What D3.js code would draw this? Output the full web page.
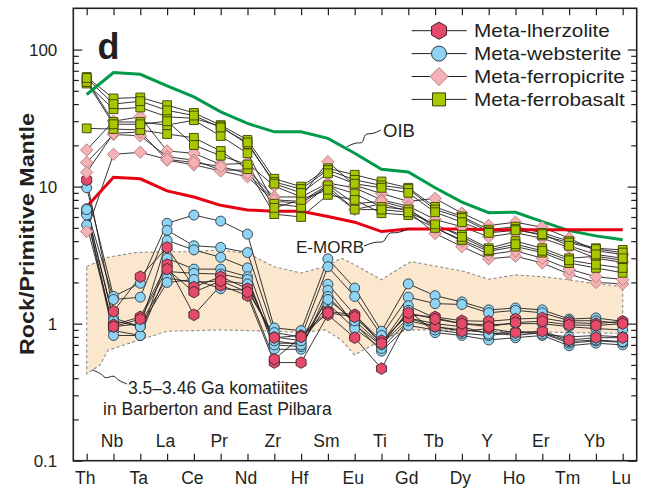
<!DOCTYPE html>
<html>
<head>
<meta charset="utf-8">
<script src="https://cdn.jsdelivr.net/npm/d3@7"></script>
<style>
body{margin:0;background:#fff}
svg{display:block}
text{font-family:Arial,"Liberation Sans",Helvetica,sans-serif;fill:#231f20}
</style>
</head>
<body>
<svg id="chart" width="648" height="492"></svg>
<script>
// elements, in plotting order
const elements=["Th","Nb","Ta","La","Ce","Pr","Nd","Zr","Hf","Sm","Eu","Ti","Gd","Tb","Dy","Y","Ho","Er","Tm","Yb","Lu"];

// reference patterns (primitive mantle normalised)
const oib=[47,68,66,54.3,45.2,35.1,28.9,25.1,25.1,22.5,17.5,13.4,12.8,9.8,7.7,6.45,6.5,5.55,4.77,4.37,4.09];
const emorb=[7.14,11.7,11.4,9.3,8.4,7.3,6.76,6.6,6.6,6.06,5.5,4.7,4.9,4.9,4.9,4.85,4.85,4.85,4.85,4.85,4.85];

// samples
const lherzolite=[
    [11.2,1.23,2.2,3.6,1.85,2.2,1.8,0.79,0.82,1.23,1.16,0.75,1.16,1.12,1.05,1.04,1.08,1.1,1.02,1.0,1.04],
    [null,0.98,1.12,2.7,1.16,1.9,1.6,0.52,0.52,1.16,0.79,0.47,1.1,0.95,0.88,0.92,0.86,0.88,0.76,0.79,0.79],
    [null,0.95,1.08,2.5,1.7,2.05,1.7,0.55,0.8,1.2,1.12,0.72,1.2,1.08,1.0,0.95,1.02,1.04,0.98,0.97,1.0]
];
const websterite=[
    [9.8,1.58,1.97,5.4,6.2,5.6,4.5,0.93,0.89,2.97,1.82,0.88,1.95,1.6,1.44,1.26,1.3,1.26,1.08,1.1,1.04],
    [6.9,1.5,1.56,4.8,3.7,3.6,3.3,0.86,0.8,2.6,1.58,0.82,1.56,1.4,1.38,1.2,1.25,1.2,1.05,1.05,1.0],
    [6.6,1.1,0.95,4.05,3.45,3.05,2.55,0.72,0.72,1.94,1.16,0.72,1.35,1.1,1.0,0.98,1.0,1.0,0.95,0.92,0.9],
    [6.4,0.89,0.82,3.0,2.5,2.5,2.2,0.65,0.65,1.75,0.98,0.69,1.25,0.86,0.82,0.76,0.79,0.82,0.69,0.72,0.70],
    [6.2,0.82,0.82,2.4,2.33,2.3,2.1,0.7,0.68,1.58,1.0,0.63,0.97,0.9,0.85,0.82,0.86,0.85,0.72,0.75,0.73],
    [5.25,0.95,1.0,2.15,2.0,2.05,1.95,0.75,0.7,1.4,0.92,0.66,1.05,0.95,0.9,0.86,0.82,0.86,0.74,0.76,0.74],
    [6.8,1.05,0.95,2.0,2.1,1.8,1.75,0.8,0.75,1.5,1.05,0.7,1.1,1.0,0.95,0.84,0.88,0.84,0.8,0.82,0.8]
];
const ferropicrite=[
    [18.5,30,32.3,18.2,17.5,14.5,14.8,10.1,8.4,15.2,10.2,8.9,7.8,8.2,6.4,5.2,5.5,5.05,4.2,3.4,3.2],
    [15,24,23.5,16.5,15.6,13.2,13.2,8.4,8.4,10.6,9.8,8.0,7.2,5.75,5.1,4.3,4.6,4.2,3.6,3.0,2.8],
    [12.7,24.5,25,15.6,14.4,13.0,11.8,7.8,7.6,10.0,6.8,7.5,6.6,4.55,3.65,2.97,3.1,2.77,2.3,2.0,1.95],
    [4.7,17.2,17.8,15.8,15.0,14.0,12.5,8.0,7.8,10.3,7.5,7.8,6.9,5.0,4.0,3.2,3.4,3.0,2.5,2.2,2.1]
];
const ferrobasalt=[
    [63,44,44.7,39.3,34.5,28.1,21.9,11.4,10.0,13.6,12.2,10.9,9.8,7.1,6.06,4.85,5.1,4.6,4.0,3.55,3.45],
    [56.5,36.7,37.8,32.3,31.5,27.5,20.4,10.8,9.6,13.2,11.2,10.2,9.6,6.8,5.9,4.7,4.9,4.4,3.9,3.5,3.3],
    [60,29.6,29.6,28.1,30.5,23.4,17.5,7.5,7.1,10.2,8.9,7.1,6.8,5.2,4.45,3.55,4.0,3.55,3.0,3.1,2.9],
    [26.6,26.3,25.9,24.2,22.7,18.2,13.4,6.3,6.0,8.7,8.0,6.4,6.2,5.0,4.08,3.37,3.65,3.3,2.77,2.55,2.35],
    [58,28.5,28.5,30,20.1,16.8,14.5,7.0,8.0,9.5,6.8,6.8,6.5,5.3,4.3,3.45,3.8,3.4,2.9,2.7,2.55],
    [62,40,42,36,33,27,21,10.5,9.0,12.5,10.5,9.8,9.0,6.5,5.5,4.6,4.8,4.5,3.7,3.2,3.0]
];

// komatiite field outline [element position, value]
const field_upper=[[0,2.61],[0.8,3.05],[1.8,3.3],[3,3.35],[4,3.35],[4.9,3.45],[6,3.26],[7,2.6],[8,2.34],[8.9,2.61],[9.5,3.0],[10,2.69],[11,2.09],[11.4,2.35],[12.1,2.84],[13.1,2.61],[14.1,2.4],[15,2.11],[16,2.27],[17,2.2],[18,2.09],[19,1.95],[20,1.87]];
const field_lower=[[0,0.43],[0.5,0.5],[0.8,0.64],[1.7,0.73],[3,0.88],[5,0.9],[7,0.88],[8,0.86],[8.9,0.9],[9.5,0.76],[10,0.59],[11,0.76],[11.9,0.9],[13,0.9],[15,0.88],[17,0.87],[18,0.86],[20,0.85]];

const legend_labels=["Meta-lherzolite","Meta-websterite","Meta-ferropicrite","Meta-ferrobasalt"];
const major_ticks=[0.1,1,10,100];

const chart=d3.select("#chart");
const plot_left=73.3, plot_right=636.7, plot_top=8.3, plot_bottom=460.7;
const ink="#231f20";

const x=d3.scaleLinear().domain([0,elements.length-1]).range([86.7,622.7]);
const y=d3.scaleLog().domain([0.1,200]).range([plot_bottom,plot_top]);

function shape_path(shape,r){
    if(shape==="circle") return d3.symbol(d3.symbolCircle,Math.PI*r*r)();
    if(shape==="square") return `M${-r},${-r}H${r}V${r}H${-r}Z`;
    if(shape==="diamond") return `M0,${-r}L${r},0L0,${r}L${-r},0Z`;
    const pts=d3.range(6).map(k=>{
        const a=Math.PI/3*k-Math.PI/2;
        return [r*Math.cos(a),r*Math.sin(a)];
    });
    return "M"+pts.join("L")+"Z";
}

function stretch(sel,k){
    sel.each(function(){
        const len=this.getComputedTextLength();
        d3.select(this).attr("textLength",len*k).attr("lengthAdjust","spacingAndGlyphs");
    });
}

// komatiite field
const field_line=d3.line().x(d=>x(d[0])).y(d=>y(d[1]));
chart.append("path")
    .attr("d",field_line(field_upper.concat(field_lower.slice().reverse()))+"Z")
    .attr("fill","#fbe7cd")
    .attr("stroke","#8a8a8a")
    .attr("stroke-width",1.1)
    .attr("stroke-dasharray","3,2.5");

const groups=[
    {data:websterite,fill:"#8fd3f4",stroke:"#2b3a42",shape:"circle",size:5,legend_size:7.5,row:1},
    {data:lherzolite,fill:"#e6496a",stroke:"#3a2529",shape:"hex",size:5.8,legend_size:8.6,row:0},
    {data:ferropicrite,fill:"#f5b1b4",stroke:"#b07c80",shape:"diamond",size:6.2,legend_size:9,row:2},
    {data:ferrobasalt,fill:"#a8c700",stroke:"#3d4100",shape:"square",size:4.4,legend_size:6.5,row:3}
];

// sample lines
const sample_line=d3.line().defined(d=>d!=null).x((d,i)=>x(i)).y(d=>y(d));
for(const group of groups){
    for(const sample of group.data){
        chart.append("path")
            .attr("d",sample_line(sample))
            .attr("fill","none")
            .attr("stroke",ink)
            .attr("stroke-width",0.9);
    }
}

// OIB and E-MORB
chart.append("path").attr("d",sample_line(oib)).attr("fill","none").attr("stroke","#009a49").attr("stroke-width",3);
chart.append("path").attr("d",sample_line(emorb)).attr("fill","none").attr("stroke","#e60012").attr("stroke-width",3);

// sample markers
for(const group of groups){
    for(const sample of group.data){
        sample.forEach((v,i)=>{
            if(v==null) return;
            chart.append("path")
                .attr("d",shape_path(group.shape,group.size))
                .attr("transform",`translate(${x(i)},${y(v)})`)
                .attr("fill",group.fill)
                .attr("stroke",group.stroke)
                .attr("stroke-width",0.9);
        });
    }
}

// axes
const minor_ticks=[];
for(const d of major_ticks){
    for(let k=2;k<=9;k++){ if(d*k<200) minor_ticks.push(d*k); }
}
function clean(g){
    g.select(".domain").remove();
    g.attr("color",ink).selectAll("line").attr("stroke-width",1.2);
}
chart.append("g").attr("transform",`translate(${plot_left},0)`)
    .call(d3.axisLeft(y).tickValues(major_ticks).tickSize(-9).tickPadding(16).tickFormat(d=>d<1?"0.1":d3.format("d")(d)))
    .call(clean)
    .selectAll("text").attr("font-size",17).attr("font-family",null).attr("fill",ink);
chart.append("g").attr("transform",`translate(${plot_left},0)`)
    .call(d3.axisLeft(y).tickValues(minor_ticks).tickSize(-5.5).tickFormat(""))
    .call(clean);
chart.append("g").attr("transform",`translate(${plot_right},0)`)
    .call(d3.axisRight(y).tickValues(major_ticks).tickSize(-9).tickFormat(""))
    .call(clean);
chart.append("g").attr("transform",`translate(${plot_right},0)`)
    .call(d3.axisRight(y).tickValues(minor_ticks).tickSize(-5.5).tickFormat(""))
    .call(clean);
chart.append("g").attr("transform",`translate(0,${plot_top})`)
    .call(d3.axisTop(x).tickValues(d3.range(elements.length)).tickSize(-7).tickFormat(""))
    .call(clean);
chart.append("g").attr("transform",`translate(0,${plot_bottom})`)
    .call(d3.axisBottom(x).tickValues(d3.range(elements.length)).tickSize(-7).tickFormat(""))
    .call(clean);

chart.append("rect")
    .attr("x",plot_left).attr("y",plot_top)
    .attr("width",plot_right-plot_left).attr("height",plot_bottom-plot_top)
    .attr("fill","none").attr("stroke",ink).attr("stroke-width",1.6);

// element labels, two rows
chart.selectAll(".element_label").data(elements).enter().append("text")
    .attr("class","element_label")
    .attr("x",(d,i)=>x(i)-1.5)
    .attr("y",(d,i)=>i%2? 447:484)
    .attr("text-anchor","middle")
    .attr("font-size",17.5)
    .text(d=>d);

// y title and panel letter
chart.append("text")
    .attr("transform","translate(34,234) rotate(-90)")
    .attr("text-anchor","middle")
    .attr("font-size",21)
    .attr("font-weight","bold")
    .attr("textLength",242)
    .attr("lengthAdjust","spacingAndGlyphs")
    .text("Rock/Primitive Mantle");
chart.append("text")
    .attr("x",97.5).attr("y",59)
    .attr("font-size",36).attr("font-weight","bold")
    .text("d");

// legend
const legend=chart.append("g");
legend_labels.forEach((label,i)=>{
    const group=groups.find(g=>g.row===i);
    const cy=30.7+i*22.9;
    legend.append("line").attr("x1",411.7).attr("x2",466.7).attr("y1",cy).attr("y2",cy)
        .attr("stroke",ink).attr("stroke-width",1);
    legend.append("path")
        .attr("d",shape_path(group.shape,group.legend_size))
        .attr("transform",`translate(439,${cy})`)
        .attr("fill",group.fill).attr("stroke",group.stroke).attr("stroke-width",1);
    legend.append("text").attr("x",474).attr("y",cy+6.6)
        .attr("font-size",18.5).text(label).call(stretch,1.12);
});

// annotations with wavy leaders
const wave=d3.line().curve(d3.curveBasis);
function leader(x0,y0,x1,y1,amp){
    const dx=x1-x0, dy=y1-y0, len=Math.hypot(dx,dy);
    const nx=-dy/len, ny=dx/len;
    const ts=[0,0.3,0.42,0.58,0.72,1];
    const offs=[0,0,amp,-amp,0,0];
    chart.append("path")
        .attr("d",wave(ts.map((t,k)=>[x0+dx*t+nx*offs[k],y0+dy*t+ny*offs[k]])))
        .attr("fill","none").attr("stroke",ink).attr("stroke-width",1);
}
leader(x(9.7),y(19.5),381,130,5);
chart.append("text").attr("x",383).attr("y",137).attr("font-size",18.5).text("OIB");

leader(364,246,x(12),y(4.9),5);
chart.append("text").attr("x",296).attr("y",253).attr("font-size",17).text("E-MORB");

leader(x(0.2),y(0.46),127,384,4);
chart.append("text").attr("x",128).attr("y",394).attr("font-size",17.5).text("3.5\u20133.46 Ga komatiites");
chart.append("text").attr("x",103).attr("y",415).attr("font-size",17.5).text("in Barberton and East Pilbara");
</script>
</body>
</html>
